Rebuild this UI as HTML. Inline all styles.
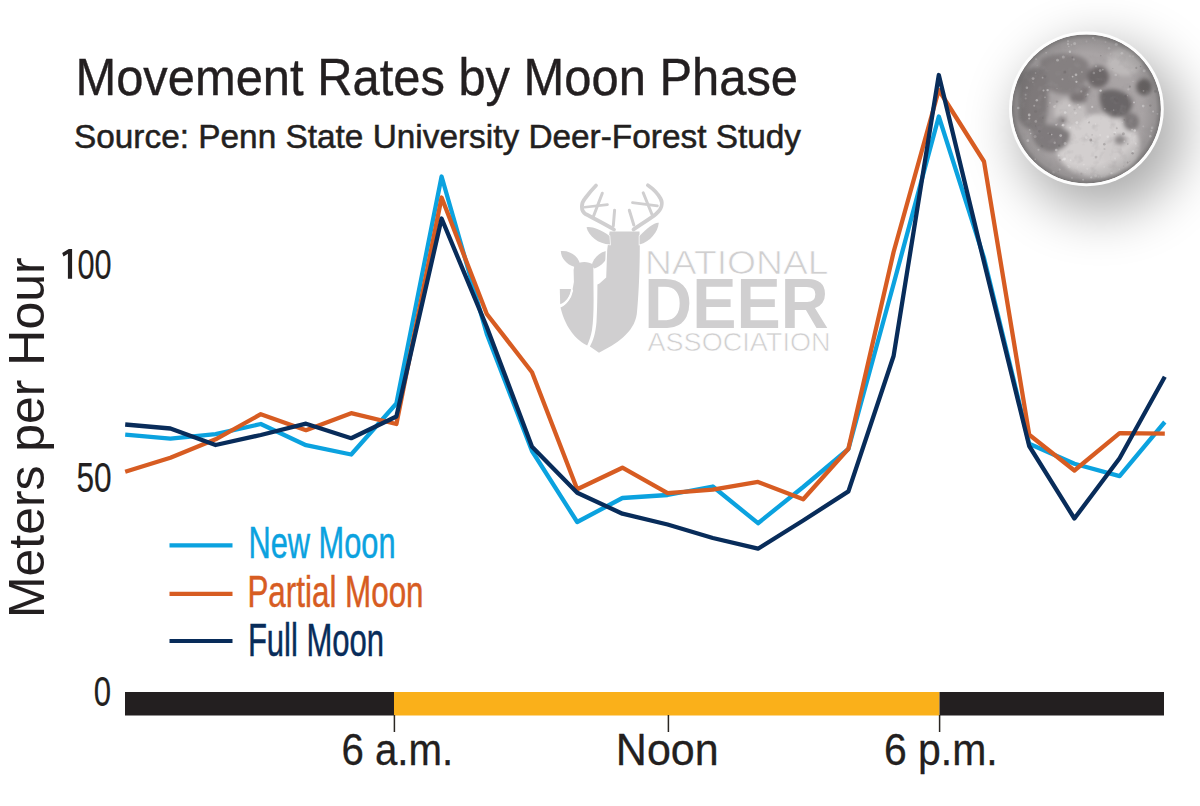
<!DOCTYPE html>
<html><head><meta charset="utf-8"><title>Movement Rates by Moon Phase</title>
<style>
html,body{margin:0;padding:0;background:#fff;}
body{width:1200px;height:806px;overflow:hidden;position:relative;font-family:"Liberation Sans",sans-serif;}
svg{position:absolute;left:0;top:0;}
</style></head><body>
<svg width="1200" height="806" viewBox="0 0 1200 806" font-family="Liberation Sans, sans-serif">
<defs>
  <filter id="msh" x="-80%" y="-80%" width="260%" height="260%">
    <feGaussianBlur stdDeviation="27"/>
  </filter>
  <radialGradient id="mlimb" cx="0.5" cy="0.5" r="0.5">
    <stop offset="0.75" stop-color="#555" stop-opacity="0"/>
    <stop offset="0.93" stop-color="#555" stop-opacity="0.22"/>
    <stop offset="1" stop-color="#444" stop-opacity="0.5"/>
  </radialGradient>
  <filter id="mnoise2" x="0" y="0" width="100%" height="100%">
    <feTurbulence type="fractalNoise" baseFrequency="0.11" numOctaves="3" seed="11" result="t"/>
    <feColorMatrix in="t" type="matrix" values="0 0 0 0 0.33  0 0 0 0 0.31  0 0 0 0 0.32  -2.4 0 0 0 1.15"/>
  </filter>
  <filter id="mdot" x="-5%" y="-5%" width="110%" height="110%"><feGaussianBlur stdDeviation="0.6"/></filter>
  <filter id="mnoise" x="0" y="0" width="100%" height="100%">
    <feTurbulence type="fractalNoise" baseFrequency="0.3" numOctaves="2" seed="7" result="t"/>
    <feColorMatrix in="t" type="matrix" values="0 0 0 0 1  0 0 0 0 1  0 0 0 0 1  2.4 0 0 0 -1.35"/>
  </filter>
  <filter id="mblur" x="-20%" y="-20%" width="140%" height="140%"><feGaussianBlur stdDeviation="2.2"/></filter>
  <clipPath id="mclip"><circle cx="1086.4" cy="108.9" r="74.5"/></clipPath>
</defs>
<rect width="1200" height="806" fill="#fff"/>

<!-- moon -->
<circle cx="1101" cy="129" r="83" fill="#000" opacity="0.33" filter="url(#msh)"/>
<circle cx="1086.4" cy="108.9" r="77.4" fill="#fdfdfd"/>
<g clip-path="url(#mclip)">
  <circle cx="1086.4" cy="108.9" r="74.5" fill="#a9a4a5"/>
  <g filter="url(#mblur)">
    <ellipse cx="1098" cy="146" rx="42" ry="32" fill="#d3cfcf"/>
    <ellipse cx="1070" cy="112" rx="16" ry="14" fill="#c4c0c0"/>
    <ellipse cx="1125" cy="62" rx="18" ry="14" fill="#bdb9b9"/>
    <ellipse cx="1120" cy="155" rx="18" ry="16" fill="#cfcbcb"/>
    <ellipse cx="1040" cy="112" rx="6" ry="9" fill="#8a8586"/>
    <ellipse cx="1062" cy="120" rx="5" ry="4" fill="#8d8889"/>
    <ellipse cx="1085" cy="90" rx="5" ry="4" fill="#7b7677"/>
    <ellipse cx="1120" cy="140" rx="6" ry="5" fill="#8f8a8b"/>
    <path d="M1040,60 C1055,50 1080,52 1088,62 C1092,74 1084,90 1070,94 C1058,96 1045,90 1040,80 Z" fill="#858081"/>
    <path d="M1018,80 C1025,66 1040,64 1046,72 C1050,90 1048,115 1044,130 C1036,134 1024,130 1018,118 Z" fill="#7e797a"/>
    <ellipse cx="1098" cy="77" rx="11" ry="11" fill="#6d6869"/>
    <path d="M1100,92 C1110,86 1126,90 1132,100 C1134,110 1126,118 1114,118 C1104,116 1098,104 1100,92 Z" fill="#6b6667"/>
    <ellipse cx="1144" cy="87" rx="8" ry="8.5" fill="#656061"/>
    <ellipse cx="1131" cy="122" rx="8" ry="9" fill="#7c7778"/>
    <path d="M1032,128 C1042,122 1060,124 1070,132 C1072,144 1062,152 1050,152 C1038,150 1030,140 1032,128 Z" fill="#7f7a7b"/>
    <ellipse cx="1078" cy="98" rx="9" ry="6" fill="#7a7576"/>
  </g>
  <rect x="1008" y="30" width="158" height="158" filter="url(#mnoise2)" opacity="0.3"/>
<g filter="url(#mdot)"><circle cx="1104.3" cy="144.2" r="1.3" fill="#5e595a" opacity="0.30"/><circle cx="1081.4" cy="173.6" r="1.1" fill="#5e595a" opacity="0.17"/><circle cx="1081.9" cy="71.9" r="1.0" fill="#f4f2f2" opacity="0.20"/><circle cx="1045.0" cy="76.7" r="1.4" fill="#5e595a" opacity="0.18"/><circle cx="1129.8" cy="56.2" r="1.1" fill="#f4f2f2" opacity="0.20"/><circle cx="1140.6" cy="66.5" r="0.7" fill="#5e595a" opacity="0.32"/><circle cx="1092.1" cy="134.9" r="0.7" fill="#5e595a" opacity="0.29"/><circle cx="1057.0" cy="88.6" r="0.7" fill="#f4f2f2" opacity="0.22"/><circle cx="1057.4" cy="124.0" r="0.5" fill="#f4f2f2" opacity="0.30"/><circle cx="1058.7" cy="155.4" r="1.0" fill="#f4f2f2" opacity="0.34"/><circle cx="1116.3" cy="44.2" r="1.5" fill="#f4f2f2" opacity="0.42"/><circle cx="1128.4" cy="89.4" r="1.1" fill="#f4f2f2" opacity="0.21"/><circle cx="1042.1" cy="146.2" r="1.4" fill="#5e595a" opacity="0.22"/><circle cx="1065.2" cy="112.5" r="1.3" fill="#f4f2f2" opacity="0.42"/><circle cx="1129.8" cy="161.4" r="0.5" fill="#5e595a" opacity="0.17"/><circle cx="1063.1" cy="125.1" r="1.4" fill="#f4f2f2" opacity="0.48"/><circle cx="1093.0" cy="81.5" r="0.8" fill="#f4f2f2" opacity="0.22"/><circle cx="1035.1" cy="136.5" r="1.5" fill="#f4f2f2" opacity="0.21"/><circle cx="1157.5" cy="113.8" r="0.9" fill="#f4f2f2" opacity="0.38"/><circle cx="1134.0" cy="102.4" r="0.9" fill="#f4f2f2" opacity="0.47"/><circle cx="1018.2" cy="108.0" r="1.3" fill="#f4f2f2" opacity="0.42"/><circle cx="1152.1" cy="127.9" r="1.3" fill="#f4f2f2" opacity="0.33"/><circle cx="1035.2" cy="159.2" r="0.8" fill="#f4f2f2" opacity="0.50"/><circle cx="1079.6" cy="107.2" r="1.2" fill="#f4f2f2" opacity="0.29"/><circle cx="1072.4" cy="57.3" r="0.9" fill="#5e595a" opacity="0.34"/><circle cx="1104.9" cy="108.8" r="0.8" fill="#f4f2f2" opacity="0.28"/><circle cx="1127.6" cy="162.5" r="0.9" fill="#5e595a" opacity="0.30"/><circle cx="1114.8" cy="132.8" r="1.3" fill="#f4f2f2" opacity="0.41"/><circle cx="1054.4" cy="106.8" r="1.3" fill="#f4f2f2" opacity="0.29"/><circle cx="1151.4" cy="130.8" r="1.1" fill="#f4f2f2" opacity="0.36"/><circle cx="1050.0" cy="134.0" r="1.0" fill="#5e595a" opacity="0.28"/><circle cx="1129.9" cy="86.7" r="1.1" fill="#5e595a" opacity="0.32"/><circle cx="1064.5" cy="159.0" r="1.4" fill="#f4f2f2" opacity="0.49"/><circle cx="1153.1" cy="111.5" r="1.0" fill="#f4f2f2" opacity="0.45"/><circle cx="1150.3" cy="105.6" r="1.2" fill="#5e595a" opacity="0.30"/><circle cx="1038.5" cy="149.8" r="1.1" fill="#f4f2f2" opacity="0.33"/><circle cx="1104.5" cy="149.0" r="1.1" fill="#5e595a" opacity="0.16"/><circle cx="1036.8" cy="100.3" r="1.2" fill="#f4f2f2" opacity="0.41"/><circle cx="1105.5" cy="42.0" r="1.0" fill="#f4f2f2" opacity="0.22"/><circle cx="1032.9" cy="82.2" r="0.7" fill="#f4f2f2" opacity="0.21"/><circle cx="1081.3" cy="91.4" r="1.1" fill="#f4f2f2" opacity="0.27"/><circle cx="1072.6" cy="76.6" r="0.9" fill="#f4f2f2" opacity="0.45"/><circle cx="1068.0" cy="41.2" r="1.1" fill="#f4f2f2" opacity="0.36"/><circle cx="1062.9" cy="120.7" r="1.5" fill="#5e595a" opacity="0.23"/><circle cx="1132.1" cy="129.7" r="0.9" fill="#f4f2f2" opacity="0.38"/><circle cx="1095.7" cy="175.7" r="1.5" fill="#f4f2f2" opacity="0.31"/><circle cx="1029.2" cy="118.5" r="1.1" fill="#f4f2f2" opacity="0.39"/><circle cx="1143.5" cy="90.8" r="0.9" fill="#f4f2f2" opacity="0.29"/><circle cx="1155.4" cy="91.3" r="1.5" fill="#5e595a" opacity="0.27"/><circle cx="1085.9" cy="96.6" r="0.8" fill="#5e595a" opacity="0.25"/><circle cx="1055.2" cy="105.5" r="0.6" fill="#f4f2f2" opacity="0.33"/><circle cx="1056.2" cy="150.0" r="1.3" fill="#f4f2f2" opacity="0.36"/><circle cx="1053.4" cy="172.4" r="1.3" fill="#f4f2f2" opacity="0.28"/><circle cx="1056.2" cy="124.7" r="1.0" fill="#f4f2f2" opacity="0.38"/><circle cx="1121.9" cy="53.2" r="1.3" fill="#f4f2f2" opacity="0.36"/><circle cx="1062.5" cy="79.2" r="1.0" fill="#f4f2f2" opacity="0.31"/><circle cx="1122.2" cy="122.2" r="0.5" fill="#f4f2f2" opacity="0.34"/><circle cx="1093.1" cy="38.0" r="1.3" fill="#f4f2f2" opacity="0.37"/><circle cx="1116.8" cy="128.2" r="1.0" fill="#5e595a" opacity="0.23"/><circle cx="1070.6" cy="160.3" r="0.7" fill="#f4f2f2" opacity="0.45"/><circle cx="1114.8" cy="99.1" r="0.8" fill="#5e595a" opacity="0.33"/><circle cx="1034.2" cy="105.7" r="1.0" fill="#f4f2f2" opacity="0.30"/><circle cx="1035.8" cy="121.4" r="1.3" fill="#f4f2f2" opacity="0.27"/><circle cx="1133.1" cy="151.5" r="1.2" fill="#f4f2f2" opacity="0.42"/><circle cx="1136.3" cy="67.9" r="1.1" fill="#5e595a" opacity="0.29"/><circle cx="1033.1" cy="78.6" r="1.4" fill="#f4f2f2" opacity="0.38"/><circle cx="1073.8" cy="59.4" r="1.1" fill="#f4f2f2" opacity="0.23"/><circle cx="1068.8" cy="46.4" r="0.6" fill="#f4f2f2" opacity="0.42"/><circle cx="1076.4" cy="81.8" r="1.1" fill="#f4f2f2" opacity="0.48"/><circle cx="1068.0" cy="44.0" r="1.2" fill="#f4f2f2" opacity="0.39"/><circle cx="1087.3" cy="168.8" r="1.1" fill="#f4f2f2" opacity="0.28"/><circle cx="1093.9" cy="73.0" r="1.3" fill="#f4f2f2" opacity="0.24"/><circle cx="1047.6" cy="90.1" r="1.2" fill="#f4f2f2" opacity="0.41"/><circle cx="1109.0" cy="48.3" r="1.2" fill="#f4f2f2" opacity="0.24"/><circle cx="1100.1" cy="70.7" r="1.4" fill="#f4f2f2" opacity="0.30"/><circle cx="1112.8" cy="68.5" r="0.6" fill="#5e595a" opacity="0.28"/><circle cx="1133.2" cy="56.3" r="1.1" fill="#f4f2f2" opacity="0.27"/><circle cx="1062.1" cy="125.5" r="0.8" fill="#f4f2f2" opacity="0.24"/><circle cx="1134.7" cy="130.5" r="1.3" fill="#f4f2f2" opacity="0.46"/><circle cx="1089.0" cy="122.4" r="1.1" fill="#5e595a" opacity="0.23"/><circle cx="1143.2" cy="106.1" r="1.3" fill="#f4f2f2" opacity="0.34"/><circle cx="1143.3" cy="126.3" r="0.9" fill="#f4f2f2" opacity="0.23"/><circle cx="1036.0" cy="59.1" r="0.9" fill="#f4f2f2" opacity="0.46"/><circle cx="1035.6" cy="73.0" r="0.8" fill="#f4f2f2" opacity="0.29"/><circle cx="1047.7" cy="106.3" r="0.5" fill="#5e595a" opacity="0.22"/><circle cx="1150.3" cy="136.3" r="1.2" fill="#f4f2f2" opacity="0.48"/><circle cx="1030.6" cy="133.5" r="0.8" fill="#f4f2f2" opacity="0.42"/><circle cx="1037.2" cy="65.2" r="0.5" fill="#f4f2f2" opacity="0.22"/><circle cx="1072.0" cy="178.0" r="0.9" fill="#f4f2f2" opacity="0.34"/><circle cx="1054.7" cy="142.8" r="1.2" fill="#f4f2f2" opacity="0.27"/><circle cx="1111.5" cy="173.2" r="1.1" fill="#f4f2f2" opacity="0.49"/><circle cx="1127.2" cy="95.8" r="0.5" fill="#f4f2f2" opacity="0.50"/><circle cx="1089.2" cy="87.0" r="0.6" fill="#f4f2f2" opacity="0.47"/><circle cx="1085.1" cy="172.5" r="0.6" fill="#f4f2f2" opacity="0.22"/><circle cx="1071.4" cy="44.7" r="0.8" fill="#f4f2f2" opacity="0.29"/><circle cx="1087.7" cy="94.6" r="1.0" fill="#f4f2f2" opacity="0.29"/><circle cx="1029.2" cy="115.0" r="1.4" fill="#f4f2f2" opacity="0.46"/><circle cx="1092.2" cy="106.9" r="1.1" fill="#f4f2f2" opacity="0.39"/><circle cx="1119.3" cy="169.2" r="0.8" fill="#f4f2f2" opacity="0.45"/><circle cx="1046.1" cy="52.8" r="0.8" fill="#f4f2f2" opacity="0.43"/><circle cx="1133.0" cy="81.6" r="0.6" fill="#f4f2f2" opacity="0.27"/><circle cx="1025.7" cy="98.5" r="1.1" fill="#f4f2f2" opacity="0.22"/><circle cx="1042.6" cy="77.7" r="0.9" fill="#f4f2f2" opacity="0.33"/><circle cx="1059.2" cy="145.7" r="1.1" fill="#5e595a" opacity="0.28"/><circle cx="1124.3" cy="119.8" r="0.9" fill="#5e595a" opacity="0.28"/><circle cx="1115.8" cy="75.0" r="1.3" fill="#f4f2f2" opacity="0.24"/><circle cx="1051.7" cy="134.6" r="0.8" fill="#f4f2f2" opacity="0.43"/><circle cx="1094.8" cy="39.9" r="0.6" fill="#f4f2f2" opacity="0.31"/><circle cx="1102.8" cy="69.6" r="0.9" fill="#f4f2f2" opacity="0.30"/><circle cx="1134.1" cy="142.0" r="0.6" fill="#f4f2f2" opacity="0.25"/><circle cx="1117.0" cy="101.0" r="1.4" fill="#5e595a" opacity="0.17"/><circle cx="1059.7" cy="169.5" r="1.0" fill="#f4f2f2" opacity="0.33"/><circle cx="1091.2" cy="177.5" r="1.1" fill="#f4f2f2" opacity="0.44"/><circle cx="1074.6" cy="43.5" r="1.5" fill="#f4f2f2" opacity="0.37"/><circle cx="1083.8" cy="164.6" r="0.9" fill="#f4f2f2" opacity="0.28"/><circle cx="1042.8" cy="118.0" r="0.9" fill="#5e595a" opacity="0.20"/><circle cx="1064.8" cy="72.1" r="1.5" fill="#5e595a" opacity="0.32"/><circle cx="1103.7" cy="94.4" r="0.6" fill="#5e595a" opacity="0.25"/><circle cx="1027.8" cy="140.7" r="1.4" fill="#f4f2f2" opacity="0.44"/><circle cx="1060.7" cy="135.6" r="1.4" fill="#f4f2f2" opacity="0.44"/><circle cx="1088.1" cy="121.6" r="0.7" fill="#f4f2f2" opacity="0.30"/><circle cx="1069.3" cy="105.4" r="1.2" fill="#f4f2f2" opacity="0.49"/><circle cx="1114.5" cy="133.7" r="1.0" fill="#5e595a" opacity="0.22"/><circle cx="1100.1" cy="135.1" r="1.0" fill="#f4f2f2" opacity="0.22"/><circle cx="1026.1" cy="87.9" r="1.1" fill="#5e595a" opacity="0.29"/><circle cx="1058.2" cy="171.6" r="0.8" fill="#5e595a" opacity="0.16"/><circle cx="1123.4" cy="133.7" r="1.5" fill="#5e595a" opacity="0.29"/><circle cx="1135.8" cy="143.7" r="1.1" fill="#f4f2f2" opacity="0.36"/><circle cx="1144.2" cy="70.8" r="1.5" fill="#f4f2f2" opacity="0.32"/><circle cx="1039.4" cy="131.3" r="1.4" fill="#5e595a" opacity="0.27"/><circle cx="1069.9" cy="51.8" r="1.2" fill="#f4f2f2" opacity="0.41"/><circle cx="1068.0" cy="165.4" r="0.7" fill="#f4f2f2" opacity="0.28"/><circle cx="1104.2" cy="166.9" r="0.7" fill="#f4f2f2" opacity="0.43"/><circle cx="1096.0" cy="157.1" r="1.4" fill="#5e595a" opacity="0.23"/><circle cx="1075.5" cy="113.1" r="1.4" fill="#f4f2f2" opacity="0.28"/><circle cx="1101.8" cy="177.0" r="0.7" fill="#f4f2f2" opacity="0.23"/><circle cx="1095.5" cy="124.0" r="0.7" fill="#f4f2f2" opacity="0.38"/><circle cx="1107.8" cy="136.7" r="1.2" fill="#f4f2f2" opacity="0.35"/><circle cx="1059.9" cy="160.0" r="1.1" fill="#5e595a" opacity="0.20"/><circle cx="1115.1" cy="158.6" r="1.0" fill="#f4f2f2" opacity="0.26"/><circle cx="1035.6" cy="125.8" r="0.6" fill="#5e595a" opacity="0.30"/><circle cx="1132.6" cy="153.2" r="1.2" fill="#5e595a" opacity="0.34"/><circle cx="1104.7" cy="176.8" r="0.6" fill="#f4f2f2" opacity="0.22"/><circle cx="1043.5" cy="90.6" r="1.0" fill="#f4f2f2" opacity="0.42"/><circle cx="1025.6" cy="94.8" r="1.0" fill="#f4f2f2" opacity="0.24"/><circle cx="1100.6" cy="90.6" r="1.2" fill="#f4f2f2" opacity="0.49"/><circle cx="1124.3" cy="141.2" r="0.8" fill="#f4f2f2" opacity="0.34"/><circle cx="1065.1" cy="143.5" r="1.4" fill="#f4f2f2" opacity="0.29"/><circle cx="1086.2" cy="137.6" r="1.3" fill="#f4f2f2" opacity="0.29"/><circle cx="1062.6" cy="159.7" r="1.0" fill="#f4f2f2" opacity="0.33"/><circle cx="1048.1" cy="133.2" r="0.6" fill="#f4f2f2" opacity="0.23"/><circle cx="1083.1" cy="179.7" r="1.0" fill="#f4f2f2" opacity="0.48"/><circle cx="1026.8" cy="87.8" r="1.3" fill="#f4f2f2" opacity="0.43"/><circle cx="1050.0" cy="102.8" r="0.9" fill="#f4f2f2" opacity="0.22"/><circle cx="1078.0" cy="104.8" r="0.6" fill="#f4f2f2" opacity="0.49"/><circle cx="1113.7" cy="110.0" r="0.6" fill="#f4f2f2" opacity="0.43"/><circle cx="1076.9" cy="122.6" r="1.4" fill="#f4f2f2" opacity="0.39"/><circle cx="1125.8" cy="96.2" r="1.4" fill="#5e595a" opacity="0.33"/><circle cx="1123.8" cy="166.1" r="0.6" fill="#5e595a" opacity="0.23"/><circle cx="1045.0" cy="97.4" r="0.8" fill="#f4f2f2" opacity="0.29"/><circle cx="1110.7" cy="53.9" r="0.7" fill="#f4f2f2" opacity="0.22"/><circle cx="1069.1" cy="166.9" r="1.4" fill="#f4f2f2" opacity="0.21"/><circle cx="1100.8" cy="55.8" r="0.7" fill="#5e595a" opacity="0.34"/><circle cx="1076.0" cy="74.8" r="1.3" fill="#f4f2f2" opacity="0.43"/><circle cx="1035.6" cy="111.6" r="1.5" fill="#5e595a" opacity="0.17"/><circle cx="1029.6" cy="129.9" r="0.9" fill="#f4f2f2" opacity="0.34"/><circle cx="1098.3" cy="176.9" r="0.7" fill="#f4f2f2" opacity="0.28"/><circle cx="1093.0" cy="142.7" r="0.6" fill="#f4f2f2" opacity="0.41"/><circle cx="1074.6" cy="109.5" r="1.1" fill="#5e595a" opacity="0.16"/><circle cx="1086.5" cy="41.5" r="0.9" fill="#f4f2f2" opacity="0.21"/><circle cx="1056.9" cy="101.6" r="1.2" fill="#5e595a" opacity="0.22"/><circle cx="1090.8" cy="140.0" r="1.4" fill="#5e595a" opacity="0.35"/><circle cx="1057.5" cy="60.2" r="1.4" fill="#f4f2f2" opacity="0.33"/><circle cx="1120.9" cy="113.1" r="0.9" fill="#5e595a" opacity="0.21"/><circle cx="1094.0" cy="157.0" r="0.6" fill="#f4f2f2" opacity="0.35"/><circle cx="1096.0" cy="66.2" r="1.0" fill="#f4f2f2" opacity="0.23"/><circle cx="1063.3" cy="56.9" r="1.5" fill="#f4f2f2" opacity="0.28"/><circle cx="1127.8" cy="144.1" r="0.8" fill="#5e595a" opacity="0.28"/><circle cx="1070.1" cy="127.7" r="0.7" fill="#f4f2f2" opacity="0.46"/><circle cx="1077.4" cy="166.9" r="0.7" fill="#f4f2f2" opacity="0.22"/></g>
  <circle cx="1086.4" cy="108.9" r="74.5" fill="url(#mlimb)"/>
</g>

<!-- logo -->
<g fill="#d0cfd0">
  <path d="M574.5,265 C580,261 588,261 593.3,264.5 L593.6,300 C593.6,312 593.2,322 592,330 C591,336 589.2,341 587.2,345.5 C578,341 566,330 560.5,307.5 C566,305 571,299 572.3,291 L573.9,282 L573.6,270 Z"/>
  <path d="M559.8,289 L571,289 C570.5,296 566,302 560.2,304.2 Z"/>
  <path d="M577,267.5 C568,266 561,259 560.8,251 C570,250 578,256 580,264 Z"/>
  <path d="M591.5,266 C593,258 600,251.5 608.5,250.5 C608.5,259 602,266 594.5,268.5 Z"/>
  <path stroke="#fff" stroke-width="3" paint-order="stroke" d="M609.6,231.5 L639.5,231.5 L639.8,246 C639.8,270 638.5,298 636.8,314 C634,333 616,344 599,352.7 L589.9,346.5 C593,341 595.5,334 596.5,322 C597.2,310 597.4,295 597.4,284.5 L599.5,283.5 L606.2,277.5 L607.2,250 Z"/>
  <path stroke="#fff" stroke-width="1.5" paint-order="stroke" d="M609.5,236 C600,229 590,226 586.5,227.5 C589,236 598,244 610,244.5 Z"/>
  <path stroke="#fff" stroke-width="1.5" paint-order="stroke" d="M639.5,236 C647,228 655,222 658.8,222.8 C658,232 650,242 639.5,244.5 Z"/>
</g>
<g fill="none" stroke="#d0cfd0" stroke-linecap="round" stroke-linejoin="round">
  <path stroke-width="3.8" d="M614,229.5 C606,224.5 595,219 585.5,214 C580.5,211 581,203 585,198.5 C588,194.5 592,189.5 596,185.5"/>
  <path stroke-width="3" d="M593.2,217 L602.3,193.2"/>
  <path stroke-width="2.6" d="M584.5,207.3 L607.5,204.6"/>
  <path stroke-width="3" d="M613.3,226 L614.6,210.2"/>
  <path stroke-width="3.8" d="M633.5,229.5 C641,224 650,219 656,214 C662,209 663,203 660.5,198.5 C657,192 652,188 647.9,185.2"/>
  <path stroke-width="3" d="M652,214.5 L643.2,192.8"/>
  <path stroke-width="2.6" d="M657.5,205.9 L632.4,202.6"/>
  <path stroke-width="3" d="M633.8,225 L629.3,210.2"/>
</g>
<g fill="none" stroke="#fff" stroke-linecap="round">
  <path stroke-width="1.8" d="M559,306.5 C565,305 570.5,299 572.2,290.5"/>
</g>
<g fill="#d0cfd0">
<text x="644.93" y="274.2" font-size="32.73" fill="#d0cfd0" stroke="#fff" stroke-width="0.7" textLength="183.61" lengthAdjust="spacingAndGlyphs">NATIONAL</text>
<text x="644.35" y="328.3" font-size="70.25" fill="#d0cfd0" font-weight="bold" textLength="184.21" lengthAdjust="spacingAndGlyphs">DEER</text>
<text x="647.48" y="351.3" font-size="24.87" fill="#d0cfd0" stroke="#fff" stroke-width="0.6" textLength="183.06" lengthAdjust="spacingAndGlyphs">ASSOCIATION</text>
</g>

<!-- titles -->
<text x="75.47" y="94.7" font-size="52.5" fill="#231f20" stroke="#231f20" stroke-width="0.4" textLength="722.54" lengthAdjust="spacingAndGlyphs">Movement Rates by Moon Phase</text>
<text x="74.0" y="147.5" font-size="32.3" fill="#231f20" stroke="#231f20" stroke-width="0.5" textLength="727.0" lengthAdjust="spacingAndGlyphs">Source: Penn State University Deer-Forest Study</text>

<!-- y axis -->
<text transform="translate(43.6,618.06) rotate(-90)" x="0" y="0" font-size="49.4" fill="#231f20" textLength="360.58" lengthAdjust="spacingAndGlyphs">Meters per Hour</text>
<text x="77.45" y="278.7" font-size="42.72" fill="#231f20" stroke="#231f20" stroke-width="0.2" textLength="34.13" lengthAdjust="spacingAndGlyphs">00</text>
<path d="M72.1,248.9 L72.1,278.7 L67.9,278.7 L67.9,253.8 L63.5,256.6 L62.2,253 L68.8,248.9 Z" fill="#231f20"/>
<text x="76.39" y="492.4" font-size="43.35" fill="#231f20" stroke="#231f20" stroke-width="0.2" textLength="35.23" lengthAdjust="spacingAndGlyphs">50</text>
<text x="93.85" y="705.8" font-size="41.72" fill="#231f20" stroke="#231f20" stroke-width="0.2" textLength="17.31" lengthAdjust="spacingAndGlyphs">0</text>

<!-- time bar -->
<rect x="125" y="692" width="269" height="23.5" fill="#231f20"/>
<rect x="394" y="692" width="545.5" height="23.5" fill="#fab01a"/>
<rect x="939.5" y="692" width="224.5" height="23.5" fill="#231f20"/>
<g stroke="#2a2622" stroke-width="1.5">
  <line x1="394.4" y1="715" x2="394.4" y2="732"/>
  <line x1="668.4" y1="715" x2="668.4" y2="732"/>
  <line x1="939.6" y1="715" x2="939.6" y2="732"/>
</g>
<text x="341.42" y="765" font-size="43.73" fill="#231f20" stroke="#231f20" stroke-width="0.3" textLength="111.72" lengthAdjust="spacingAndGlyphs">6 a.m.</text>
<text x="615.84" y="765" font-size="44.36" fill="#231f20" stroke="#231f20" stroke-width="0.3" textLength="102.8" lengthAdjust="spacingAndGlyphs">Noon</text>
<text x="883.9" y="765" font-size="43.73" fill="#231f20" stroke="#231f20" stroke-width="0.3" textLength="113.77" lengthAdjust="spacingAndGlyphs">6 p.m.</text>

<!-- legend -->
<g stroke-width="4.2">
  <line x1="169.5" y1="545.4" x2="232.5" y2="545.4" stroke="#0ba2df"/>
  <line x1="169.5" y1="593.8" x2="232.5" y2="593.8" stroke="#d75c22"/>
  <line x1="169.5" y1="641" x2="232.5" y2="641" stroke="#082c5a"/>
</g>
<text x="248.43" y="558" font-size="44.95" fill="#0ba2df" stroke="#0ba2df" stroke-width="0.5" textLength="147.12" lengthAdjust="spacingAndGlyphs">New Moon</text>
<text x="247.43" y="607.1" font-size="44.95" fill="#d75c22" stroke="#d75c22" stroke-width="0.5" textLength="176.13" lengthAdjust="spacingAndGlyphs">Partial Moon</text>
<text x="247.92" y="656.2" font-size="45.38" fill="#082c5a" stroke="#082c5a" stroke-width="0.5" textLength="136.16" lengthAdjust="spacingAndGlyphs">Full Moon</text>

<!-- data lines -->
<g fill="none" stroke-width="4.3" stroke-linejoin="round">
  <polyline points="125.2,434.6 170.4,438.7 215.6,434.2 260.8,424.0 306.0,445.2 351.2,454.5 396.4,403.5 441.6,176.5 486.8,334.0 532.0,451.0 577.2,522.0 622.4,498.0 667.6,495.0 712.8,486.5 758.0,523.2 803.2,487.0 848.4,449.0 893.6,284.0 938.8,116.5 984.0,258.0 1029.2,443.7 1074.4,463.8 1119.6,476.1 1164.8,422.0" stroke="#0ba2df"/>
  <polyline points="125.2,471.8 170.4,457.7 215.6,439.3 260.8,414.2 306.0,430.2 351.2,413.2 396.4,424.0 441.6,197.5 486.8,314.0 532.0,372.2 577.2,489.3 622.4,467.7 667.6,493.2 712.8,489.7 758.0,481.9 803.2,499.2 848.4,448.7 893.6,252.0 938.8,90.0 984.0,161.5 1029.2,434.7 1074.4,470.5 1119.6,433.2 1164.8,433.7" stroke="#d75c22"/>
  <polyline points="125.2,424.5 170.4,428.5 215.6,445.0 260.8,435.0 306.0,423.7 351.2,438.2 396.4,416.5 441.6,218.5 486.8,327.0 532.0,446.7 577.2,492.7 622.4,513.7 667.6,524.5 712.8,538.0 758.0,548.7 803.2,520.5 848.4,491.4 893.6,356.0 938.8,75.0 984.0,262.0 1029.2,446.0 1074.4,518.5 1119.6,458.3 1164.8,376.7" stroke="#082c5a"/>
</g>
</svg>
</body></html>
